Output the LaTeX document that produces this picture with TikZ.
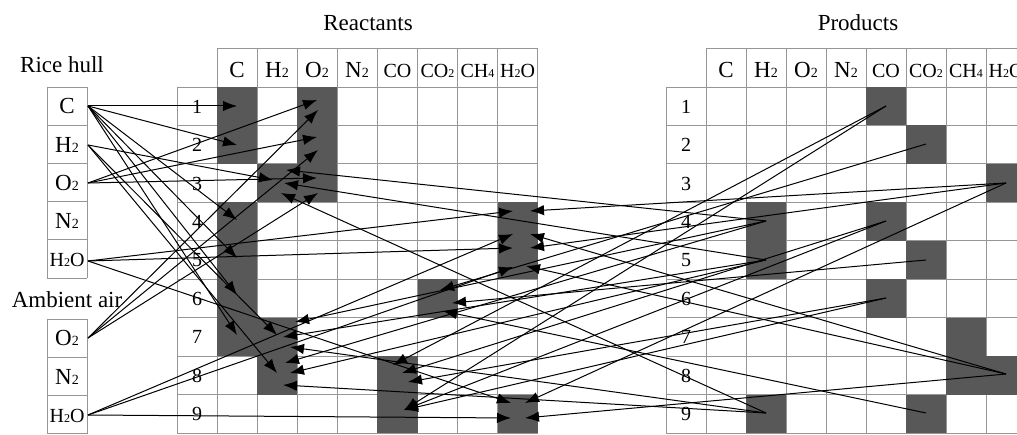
\documentclass[tikz,border=0pt]{standalone}
\usepackage{fontspec}
\setmainfont{Liberation Serif}
\usetikzlibrary{arrows.meta}
\definecolor{gridgray}{RGB}{150,150,150}
\definecolor{shadegray}{RGB}{88,88,88}
\newcommand{\fbig}{\fontsize{23}{24}\selectfont}
\newcommand{\fsm}{\fontsize{20}{20}\selectfont}
\newcommand{\fnum}{\fontsize{20}{20}\selectfont}
\newcommand{\sbn}[1]{{\fontsize{14}{14}\selectfont #1}}
\newcommand{\sbs}[1]{{\fontsize{12}{12}\selectfont #1}}
\newcommand{\rcell}[3]{\fill[shadegray] ({217+40.1*#1},{87+38.44*(#2-1)}) rectangle ({217+40.1*(#1+1)},{87+38.44*#3});}
\newcommand{\pcell}[3]{\fill[shadegray] ({706+40*#1},{87+38.44*(#2-1)}) rectangle ({706+40*(#1+1)},{87+38.44*#3});}
\tikzset{
  gridline/.style={draw=gridgray, line width=0.9pt},
  arr/.style={-{Latex[length=14pt,width=10.5pt]}, line width=1pt, draw=black},
  lbl/.style={inner sep=0pt, anchor=base},
}
\begin{document}
\begin{tikzpicture}[x=1pt,y=-1pt]
\useasboundingbox[fill=white] (0,0) rectangle (1017,435);
% ---------- grids ----------
% reactants
\foreach \i in {0,...,8} \draw[gridline] ({217+40.1*\i},48) -- ({217+40.1*\i},433);
\draw[gridline] (217,48) -- (537.8,48);
\foreach \j in {0,...,9} \draw[gridline] (177,{87+38.44*\j}) -- (537.8,{87+38.44*\j});
\draw[gridline] (177,87) -- (177,433);
% products
\foreach \i in {0,...,8} \draw[gridline] ({706+40*\i},48) -- ({706+40*\i},433);
\draw[gridline] (706,48) -- (1026,48);
\foreach \j in {0,...,9} \draw[gridline] (666,{87+38.44*\j}) -- (1026,{87+38.44*\j});
\draw[gridline] (666,87) -- (666,433);
% left boxes
\foreach \j in {0,...,5} \draw[gridline] (47,{87+38.2*\j}) -- (87,{87+38.2*\j});
\draw[gridline] (47,87) -- (47,278) (87,87) -- (87,278);
\foreach \j in {0,...,3} \draw[gridline] (47,{319+38.3*\j}) -- (87,{319+38.3*\j});
\draw[gridline] (47,319) -- (47,434) (87,319) -- (87,434);
% ---------- shaded cells ----------
\rcell{0}{1}{2}\rcell{0}{4}{7}\rcell{1}{3}{3}\rcell{1}{7}{8}\rcell{2}{1}{3}
\rcell{7}{4}{5}\rcell{7}{9}{9}\rcell{5}{6}{6}\rcell{4}{8}{9}
\pcell{4}{1}{1}\pcell{4}{4}{4}\pcell{4}{6}{6}
\pcell{5}{2}{2}\pcell{5}{5}{5}\pcell{5}{9}{9}
\pcell{7}{3}{3}\pcell{7}{8}{8}
\pcell{1}{4}{5}\pcell{1}{9}{9}\pcell{6}{7}{8}
% ---------- texts ----------
\node[lbl,font=\fbig] (tReact) at (368,31) {Reactants};
\node[lbl,font=\fbig] (tProd) at (858,31) {Products};
\node[lbl,font=\fbig] (tRice) at (62,73) {Rice hull};
\node[lbl,font=\fbig] (tAir) at (67,308) {Ambient air};
% reactant header
\node[lbl,font=\fbig] (rhC) at (237,78) {C};
\node[lbl,font=\fbig] (rhH) at (277,78) {H\sbn{2}};
\node[lbl,font=\fbig] (rhO) at (317,78) {O\sbn{2}};
\node[lbl,font=\fbig] (rhN) at (357,78) {N\sbn{2}};
\node[lbl,font=\fsm] (rhCO) at (397.5,78) {CO};
\node[lbl,font=\fsm] (rhCD) at (437.5,78) {CO\sbs{2}};
\node[lbl,font=\fsm] (rhCH) at (477.5,78) {CH\sbs{4}};
\node[lbl,font=\fsm] (rhW) at (517.5,78) {H\sbs{2}O};
% product header
\node[lbl,font=\fbig] (phC) at (726,78) {C};
\node[lbl,font=\fbig] (phH) at (766,78) {H\sbn{2}};
\node[lbl,font=\fbig] (phO) at (806,78) {O\sbn{2}};
\node[lbl,font=\fbig] (phN) at (846,78) {N\sbn{2}};
\node[lbl,font=\fsm] (phCO) at (886,78) {CO};
\node[lbl,font=\fsm] (phCD) at (926,78) {CO\sbs{2}};
\node[lbl,font=\fsm] (phCH) at (966,78) {CH\sbs{4}};
\node[lbl,font=\fsm] (phW) at (1006,78) {H\sbs{2}O};
% row numbers
\foreach \k in {1,...,9} {
  \node[lbl,font=\fnum] (rn\k) at (197,{87+38.44*(\k-0.5)+7}) {\k};
  \node[lbl,font=\fnum] (pn\k) at (686,{87+38.44*(\k-0.5)+7}) {\k};
}
% left boxes
\node[lbl,font=\fbig] (lC) at (67,114) {C};
\node[lbl,font=\fbig] (lH) at (67,152.5) {H\sbn{2}};
\node[lbl,font=\fbig] (lO) at (67,191) {O\sbn{2}};
\node[lbl,font=\fbig] (lN) at (67,229) {N\sbn{2}};
\node[lbl,font=\fsm] (lW) at (67,266.5) {H\sbs{2}O};
\node[lbl,font=\fbig] (aO) at (67,346) {O\sbn{2}};
\node[lbl,font=\fbig] (aN) at (67,384.5) {N\sbn{2}};
\node[lbl,font=\fsm] (aW) at (67,422.5) {H\sbs{2}O};
% ---------- connector end points ----------
% sources (left)
\coordinate (sRC) at (88,106);
\coordinate (sRH) at (88,145);
\coordinate (sRO) at (88,183);
\coordinate (sRW) at (88,261);
\coordinate (sAO) at (88,338);
\coordinate (sAW) at (88,415);
% sources (products)
\coordinate (pCO1) at (886,106);
\coordinate (pCO4) at (886,221);
\coordinate (pCO6) at (886,298);
\coordinate (pCD2) at (926,144);
\coordinate (pCD5) at (926,260);
\coordinate (pCD9) at (926,413);
\coordinate (pW3) at (1006,183);
\coordinate (pW8) at (1006,374);
\coordinate (pH4) at (766,221);
\coordinate (pH5) at (766,260);
\coordinate (pH9) at (766,413);
% tips (reactants)
\coordinate (tC1) at (237,106);
\coordinate (tC2) at (237,145);
\coordinate (tC4) at (237,220);
\coordinate (tC5) at (237,258);
\coordinate (tC6) at (237,295);
\coordinate (tC7) at (237,335);
\coordinate (tH3a) at (273,180);
\coordinate (tH7a) at (277,335);
\coordinate (tH8a) at (277,373);
\coordinate (tO1a) at (317,100);
\coordinate (tO2a) at (317,137);
\coordinate (tO3a) at (317,178);
\coordinate (tO1b) at (318,110);
\coordinate (tO2b) at (318,150);
\coordinate (tO3b) at (318,193);
\coordinate (tW4a) at (513,211);
\coordinate (tW5a) at (513,248);
\coordinate (tW9a) at (511,403);
\coordinate (tW4b) at (513,234);
\coordinate (tW5b) at (513,267);
\coordinate (tW9b) at (511,418);
\coordinate (tW4c) at (530,211);
\coordinate (tW5c) at (530,248);
\coordinate (tW9c) at (525,403);
\coordinate (tW4d) at (530,234);
\coordinate (tW5d) at (526,266);
\coordinate (tW9d) at (525,418);
\coordinate (tH3b) at (286,170);
\coordinate (tH3c) at (284,183);
\coordinate (tH3d) at (281,193);
\coordinate (tH7b) at (295,322);
\coordinate (tH7c) at (283,337);
\coordinate (tH7d) at (290,347);
\coordinate (tH8b) at (285,363);
\coordinate (tH8c) at (290,373);
\coordinate (tH8d) at (283,385);
\coordinate (tCO8a) at (393,365);
\coordinate (tCO8b) at (402,373);
\coordinate (tCO8c) at (408,382);
\coordinate (tCO9) at (404,410);
\coordinate (tCD6a) at (440,290);
\coordinate (tCD6b) at (452,303);
\coordinate (tCD6c) at (443,311);
% ---------- connectors ----------
\foreach \t in {tC1,tC2,tC4,tC5,tC6,tC7} \draw[arr] (sRC) -- (\t);
\foreach \t in {tH3a,tH7a,tH8a} \draw[arr] (sRH) -- (\t);
\foreach \t in {tO1a,tO2a,tO3a} \draw[arr] (sRO) -- (\t);
\foreach \t in {tW4a,tW5a,tW9a} \draw[arr] (sRW) -- (\t);
\foreach \t in {tO1b,tO2b,tO3b} \draw[arr] (sAO) -- (\t);
\foreach \t in {tW4b,tW5b,tW9b} \draw[arr] (sAW) -- (\t);
\draw[arr] (pCO1) -- (tCO8a);
\draw[arr] (pCO4) -- (tCO8b);
\draw[arr] (pCO6) -- (tCO8c);
\foreach \s in {pCO1,pCO4,pCO6} \draw[arr] (\s) -- (tCO9);
\draw[arr] (pCD2) -- (tCD6a);
\draw[arr] (pCD5) -- (tCD6b);
\draw[arr] (pCD9) -- (tCD6c);
\foreach \t in {tW4c,tW5c,tW9c} \draw[arr] (pW3) -- (\t);
\foreach \t in {tW4d,tW5d,tW9d} \draw[arr] (pW8) -- (\t);
\draw[arr] (pH4) -- (tH3b);
\draw[arr] (pH5) -- (tH3c);
\draw[arr] (pH9) -- (tH3d);
\draw[arr] (pH4) -- (tH7b);
\draw[arr] (pH5) -- (tH7c);
\draw[arr] (pH9) -- (tH7d);
\draw[arr] (pH4) -- (tH8b);
\draw[arr] (pH5) -- (tH8c);
\draw[arr] (pH9) -- (tH8d);
\end{tikzpicture}
\end{document}
